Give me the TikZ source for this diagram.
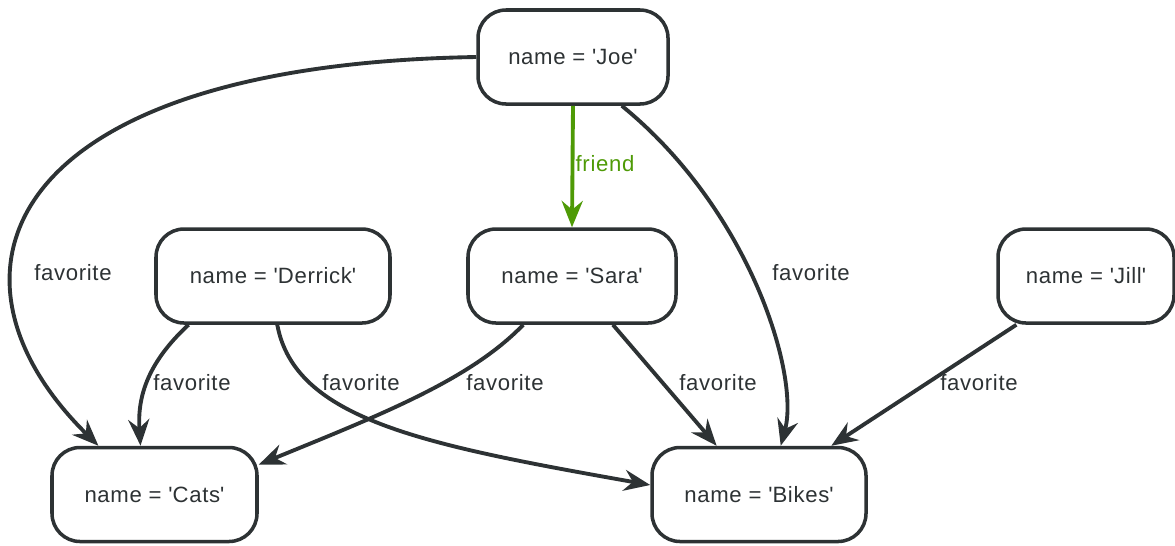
\documentclass[tikz,border=0pt]{standalone}
\usepackage{fontspec}
\setmainfont[LetterSpace=3]{Liberation Sans}
\usepackage{tikz}
\usepackage{xcolor}
\usetikzlibrary{arrows.meta, positioning}

\definecolor{edgegray}{RGB}{45,50,52}
\definecolor{friendgreen}{RGB}{78,154,6}
\newcommand{\q}{\textquotesingle}

\begin{document}
\begin{tikzpicture}[
    scale=1.0,
    person/.style={draw=edgegray, line width=2pt, rounded corners=0.56cm, fill=white,
        minimum height=1.88cm, text=edgegray, font=\fontsize{12.6}{15}\selectfont},
    rel/.style={-{Stealth[length=15pt,width=12pt,inset=5pt]}, draw=edgegray, line width=2.2pt},
    lbl/.style={text=edgegray, font=\fontsize{12.6}{15}\selectfont}
]
    \useasboundingbox (0,0) rectangle (23.5,-10.9);

    % People and things
    \node[person, minimum width=3.8cm] (joe) at (11.46,-1.14) {name = \q Joe\q};
    \node[person, minimum width=4.68cm] (derrick) at (5.46,-5.52) {name = \q Derrick\q};
    \node[person, minimum width=4.16cm] (sara) at (11.44,-5.52) {name = \q Sara\q};
    \node[person, minimum width=3.52cm] (jill) at (21.72,-5.52) {name = \q Jill\q};
    \node[person, minimum width=4.1cm] (cats) at (3.09,-9.89) {name = \q Cats\q};
    \node[person, minimum width=4.28cm] (bikes) at (15.18,-9.89) {name = \q Bikes\q};

    % Friend
    \draw[rel, draw=friendgreen, -{Stealth[length=15pt,width=12pt,inset=5pt,fill=friendgreen]}] (joe.south) -- (sara.north);
    \node[lbl, text=friendgreen] (lfriend) at (12.1,-3.28) {friend};

    % Favorites of Joe
    \draw[rel] (joe.west) .. controls (0,-1.3) and (-1.5,-5.5) .. (cats.139);
    \node[lbl] (lfav1) at (1.46,-5.46) {favorite};
    \draw[rel] (joe.-45) .. controls (15,-4.2) and (16,-7.5) .. (bikes.66);
    \node[lbl] (lfav2) at (16.22,-5.46) {favorite};

    % Favorites of Derrick
    \draw[rel] (derrick.-150) .. controls (2.9,-7.3) and (2.75,-8.0) .. (cats.106);
    \node[lbl] (lfav3) at (3.84,-7.66) {favorite};
    \draw[rel] (derrick.-85) .. controls (5.9,-8.4) and (8.5,-8.9) .. (bikes.175);
    \node[lbl] (lfav4) at (7.22,-7.66) {favorite};

    % Favorites of Sara
    \draw[rel] (sara.-135) .. controls (9.4,-7.6) and (7.6,-8.3) .. (cats.16);
    \node[lbl] (lfav5) at (10.1,-7.66) {favorite};
    \draw[rel] (sara.-50) -- (bikes.131);
    \node[lbl] (lfav6) at (14.36,-7.66) {favorite};

    % Favorite of Jill
    \draw[rel] (jill.-145) -- (bikes.34);
    \node[lbl] (lfav7) at (19.58,-7.66) {favorite};
\end{tikzpicture}
\end{document}
